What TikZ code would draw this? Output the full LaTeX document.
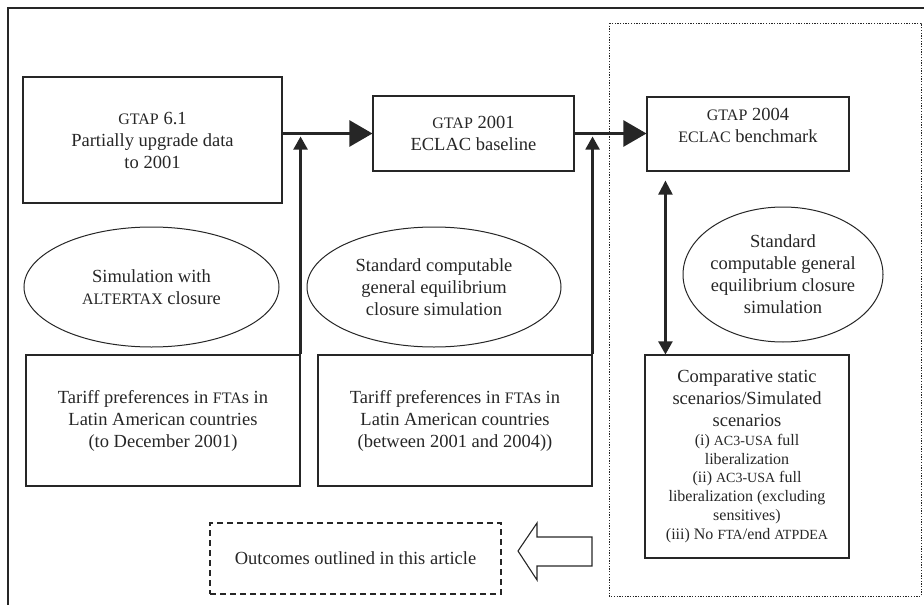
\documentclass[tikz,border=0pt]{standalone}
\usepackage{fontspec}
\setmainfont{Liberation Serif}
\usetikzlibrary{arrows.meta, calc, positioning, shapes.geometric}
\definecolor{inkgray}{HTML}{262626}
\newcommand{\smc}[1]{{\fontsize{16pt}{16pt}\selectfont #1}}
\newcommand{\smcs}[1]{{\fontsize{14pt}{14pt}\selectfont #1}}
\newcommand{\fs}{\fontsize{16pt}{22pt}\selectfont}

\begin{document}
\begin{tikzpicture}[x=1pt, y=-1pt, color=inkgray,
    every node/.style={font=\fontsize{18.5pt}{22pt}\selectfont, align=center, inner sep=0pt, text=inkgray},
    box/.style={draw, line width=1.1pt},
    ell/.style={draw, ellipse, line width=1pt},
    bigflow/.style={line width=2.5pt, -{Triangle[length=23pt,width=26pt]}},
    feed/.style={line width=2.2pt, -{Triangle[length=13pt,width=14pt]}},
    twoway/.style={line width=2.2pt, {Triangle[length=14pt,width=14pt]}-{Triangle[length=13pt,width=14pt]}}]
  \useasboundingbox (0,0) rectangle (924,605);
  \draw[line width=1.2pt] (8,605) -- (8,8) -- (924,8);
  \draw[line width=1pt, dash pattern=on 1.3pt off 1.4pt] (609,23) rectangle (921,596);

  \node[box, minimum width=259pt, minimum height=126pt] (gtap61) at (152.5,140) {\smc{GTAP} 6.1\\Partially upgrade data\\to 2001};
  \node[box, minimum width=201pt, minimum height=75pt] (base) at (473.5,133.5) {\smc{GTAP} 2001\\ECLAC baseline};
  \node[box, minimum width=202pt, minimum height=74pt] (bench) at (748,134) {\smc{GTAP} 2004\\\smc{ECLAC} benchmark\\[-4pt]\mbox{}};

  \node[ell, minimum width=255pt, minimum height=120pt] (altertax) at (151.5,287) {Simulation with\\\smc{ALTERTAX} closure};
  \node[ell, minimum width=254pt, minimum height=120pt] (cgeA) at (434,287) {Standard computable\\general equilibrium\\closure simulation};
  \node[ell, inner xsep=-4pt, minimum width=200pt, minimum height=135pt] (cgeB) at (783,274.5) {Standard\\computable general\\equilibrium closure\\simulation};

  \node[box, minimum width=274pt, minimum height=131pt] (tariffA) at (163,420.5) {Tariff preferences in \smc{FTA}s in\\Latin American countries\\(to December 2001)};
  \node[box, minimum width=274pt, minimum height=131pt] (tariffB) at (455,420.5) {Tariff preferences in \smc{FTA}s in\\Latin American countries\\(between 2001 and 2004))};
  \node[box, minimum width=204pt, minimum height=203pt] (scen) at (747,456.5) {Comparative static\\scenarios/Simulated\\scenarios\\[-3.3pt]{\fs (i) \smcs{AC3-USA} full}\\[-3.3pt]{\fs liberalization}\\[-3.3pt]{\fs (ii) \smcs{AC3-USA} full}\\[-3.3pt]{\fs liberalization (excluding}\\[-3.3pt]{\fs sensitives)}\\[-3.3pt]{\fs (iii) No \smcs{FTA}/end \smcs{ATPDEA}}};
  \node[box, dash pattern=on 6pt off 4pt, minimum width=291pt, minimum height=71pt] (outcome) at (355.5,558.5) {Outcomes outlined in this article};

  \draw[bigflow] (gtap61.east |- base.west) -- (base.west);
  \draw[bigflow] (base.east) -- (bench.west |- base.east);
  \coordinate (joinA) at ($(tariffA.north east |- base.west)+(0,3)$);
  \coordinate (joinB) at ($(tariffB.north east |- base.east)+(0,3)$);
  \draw[feed] (tariffA.north east) -- (joinA);
  \draw[feed] (tariffB.north east) -- (joinB);
  \coordinate (benchfoot) at ($(bench.south west)+(19,9)$);
  \draw[twoway] (benchfoot) -- (benchfoot |- scen.north);

  \coordinate (backtip) at (518,551);
  \draw[line width=1.1pt, line join=miter] (backtip) -- ++(19,-28) -- ++(0,14) -- ++(55,0) -- ++(0,29) -- ++(-55,0) -- ++(0,14) -- cycle;
\end{tikzpicture}
\end{document}
